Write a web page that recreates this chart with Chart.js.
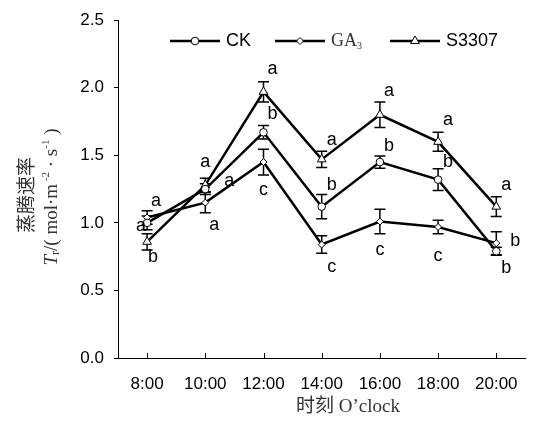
<!DOCTYPE html>
<html>
<head>
<meta charset="utf-8">
<script src="https://cdn.jsdelivr.net/npm/chart.js@4/dist/chart.umd.min.js"></script>
<style>
  html, body { margin: 0; padding: 0; background: #fff; }
  #wrap { width: 534px; height: 433px; }
</style>
</head>
<body>
<div id="wrap"><canvas id="c" width="534" height="433"></canvas></div>
<script>
// data
var times = ['8:00', '10:00', '12:00', '14:00', '16:00', '18:00', '20:00'];
var ck = [1.00, 1.25, 1.67, 1.12, 1.45, 1.32, 0.79];
var ckErr = [0.05, 0.04, 0.05, 0.09, 0.045, 0.08, 0.03];
var ga3 = [1.04, 1.15, 1.45, 0.84, 1.01, 0.97, 0.85];
var ga3Err = [0.05, 0.075, 0.095, 0.065, 0.09, 0.05, 0.085];
var s3307 = [0.86, 1.28, 1.97, 1.47, 1.80, 1.60, 1.12];
var s3307Err = [0.06, 0.05, 0.075, 0.06, 0.095, 0.07, 0.073];
var ckSig = ['a', 'a', 'b', 'b', 'b', 'b', 'b'];
var ga3Sig = ['a', 'a', 'c', 'c', 'c', 'c', 'b'];
var s3307Sig = ['b', 'a', 'a', 'a', 'a', 'a', 'a'];
var yTicks = [0, 0.5, 1.0, 1.5, 2.0, 2.5];

// where the letters sit relative to their point (px)
var sigOffset = {
  ck: [[-6, 3], [24, -8], [9, -18], [10, -22], [9, -16], [10, -18], [10, 17]],
  ga3: [[9, -16], [9, 22], [0, 28], [10, 23], [0, 29], [0, 29], [19, -2]],
  s3307: [[6, 15], [0, -23], [9, -23], [10, -19], [9, -24], [10, -22], [10, -22]]
};

var errs = [ckErr, ga3Err, s3307Err];
var sigs = [ckSig, ga3Sig, s3307Sig];
var offs = [sigOffset.ck, sigOffset.ga3, sigOffset.s3307];

var errorBars = {
  id: 'errorBars',
  beforeDatasetsDraw: function(chart) {
    var ctx = chart.ctx, y = chart.scales.y;
    ctx.save();
    ctx.strokeStyle = '#000';
    ctx.lineWidth = 1.5;
    chart.data.datasets.forEach(function(ds, di) {
      var meta = chart.getDatasetMeta(di);
      meta.data.forEach(function(pt, i) {
        var v = ds.data[i], e = errs[di][i];
        var top = y.getPixelForValue(v + e), bot = y.getPixelForValue(v - e);
        ctx.beginPath();
        ctx.moveTo(pt.x, top); ctx.lineTo(pt.x, bot);
        ctx.moveTo(pt.x - 5.5, top); ctx.lineTo(pt.x + 5.5, top);
        ctx.moveTo(pt.x - 5.5, bot); ctx.lineTo(pt.x + 5.5, bot);
        ctx.stroke();
      });
    });
    ctx.restore();
  },
  afterDatasetsDraw: function(chart) {
    var ctx = chart.ctx;
    ctx.save();
    ctx.fillStyle = '#000';
    ctx.font = '18px "Liberation Sans", Arial, sans-serif';
    ctx.textAlign = 'center';
    ctx.textBaseline = 'middle';
    chart.data.datasets.forEach(function(ds, di) {
      var meta = chart.getDatasetMeta(di);
      meta.data.forEach(function(pt, i) {
        var o = offs[di][i];
        ctx.fillText(sigs[di][i], pt.x + o[0], pt.y + o[1]);
      });
    });
    ctx.restore();
  }
};

var extras = {
  id: 'extras',
  afterDraw: function(chart) {
    var ctx = chart.ctx, xs = chart.scales.x, area = chart.chartArea;
    ctx.save();
    // inner tick marks on x axis
    ctx.strokeStyle = '#000';
    ctx.lineWidth = 1;
    for (var i = 0; i < times.length; i++) {
      var px = Math.round(xs.getPixelForTick(i)) + 0.5;
      ctx.beginPath();
      ctx.moveTo(px, area.bottom);
      ctx.lineTo(px, area.bottom - 5);
      ctx.stroke();
    }

    // legend
    var items = [
      { x: 170, style: 'circle', r: 3.8, text: 'CK', font: '18px "Liberation Sans", Arial', color: '#000' },
      { x: 275, style: 'rectRot', r: 3.5, text: 'GA', sub: '3', font: '18px "Liberation Serif", serif', color: '#333' },
      { x: 390, style: 'triangle', r: 5, text: 'S3307', font: '18px "Liberation Sans", Arial', color: '#000' }
    ];
    var ly = 41;
    items.forEach(function(it) {
      ctx.strokeStyle = '#000';
      ctx.lineWidth = 2.5;
      ctx.beginPath();
      ctx.moveTo(it.x, ly); ctx.lineTo(it.x + 50, ly);
      ctx.stroke();
      ctx.fillStyle = '#fff';
      ctx.lineWidth = 1;
      Chart.helpers.drawPoint(ctx, { pointStyle: it.style, radius: it.r, borderWidth: 1, rotation: 0 }, it.x + 25, ly);
      ctx.fillStyle = it.color;
      ctx.font = it.font;
      ctx.textAlign = 'left';
      ctx.textBaseline = 'middle';
      ctx.fillText(it.text, it.x + 56, ly);
      if (it.sub) {
        var w = ctx.measureText(it.text).width;
        ctx.font = '10px "Liberation Serif", serif';
        ctx.fillText(it.sub, it.x + 56 + w, ly + 5);
      }
    });

    // x title
    ctx.fillStyle = '#333';
    ctx.textAlign = 'center';
    ctx.textBaseline = 'middle';
    ctx.font = '19px "Liberation Serif", "Noto Sans CJK SC", serif';
    ctx.fillText('时刻 O\u2019clock', 348, 407);

    // y title, two rotated lines
    ctx.save();
    ctx.translate(26, 195);
    ctx.rotate(-Math.PI / 2);
    ctx.font = '19px "Noto Sans CJK SC", sans-serif';
    ctx.fillText('蒸腾速率', 0, 0);
    ctx.restore();

    ctx.save();
    ctx.translate(52, 197);
    ctx.rotate(-Math.PI / 2);
    var parts = [
      ['T', 'italic 19px "Liberation Serif", serif', 0],
      ['r', '12px "Liberation Serif", serif', 4],
      ['/( mol\u00b7m', '19px "Liberation Serif", serif', 0],
      [' -2', '11px "Liberation Serif", serif', -6],
      [' \u00b7 s', '19px "Liberation Serif", serif', 0],
      ['-1', '11px "Liberation Serif", serif', -6],
      [' )', '19px "Liberation Serif", serif', 0]
    ];
    var total = 0;
    parts.forEach(function(p) { ctx.font = p[1]; total += ctx.measureText(p[0]).width; });
    var cx = -total / 2;
    ctx.textAlign = 'left';
    parts.forEach(function(p) {
      ctx.font = p[1];
      ctx.fillText(p[0], cx, p[2]);
      cx += ctx.measureText(p[0]).width;
    });
    ctx.restore();

    ctx.restore();
  }
};

function series(label, data, style, r) {
  return {
    label: label,
    data: data,
    borderColor: '#000',
    borderWidth: 2.5,
    pointStyle: style,
    pointRadius: r,
    pointBackgroundColor: '#fff',
    pointBorderColor: '#000',
    pointBorderWidth: 1,
    tension: 0,
    fill: false
  };
}

new Chart(document.getElementById('c'), {
  type: 'line',
  data: {
    labels: times,
    datasets: [
      series('CK', ck, 'circle', 3.8),
      series('GA3', ga3, 'rectRot', 3.5),
      series('S3307', s3307, 'triangle', 5)
    ]
  },
  options: {
    responsive: false,
    animation: false,
    devicePixelRatio: 1,
    layout: { padding: { top: 17, right: 0, bottom: 0, left: 0 } },
    plugins: { legend: { display: false }, tooltip: { enabled: false } },
    scales: {
      x: {
        offset: true,
        grid: { display: false, drawTicks: false },
        border: { display: true, color: '#000', width: 1 },
        ticks: { color: '#000', padding: 16, font: { family: '"Liberation Sans", Arial', size: 17 } },
        afterFit: function(s) { s.height = 75; }
      },
      y: {
        min: 0,
        max: 2.5,
        afterBuildTicks: function(s) { s.ticks = yTicks.map(function(v) { return { value: v }; }); },
        grid: { display: true, drawOnChartArea: false, drawTicks: true, tickLength: 4, color: '#000' },
        border: { display: true, color: '#000', width: 1 },
        ticks: {
          color: '#000',
          padding: 10,
          font: { family: '"Liberation Sans", Arial', size: 17 },
          callback: function(v) { return Number(v).toFixed(1); }
        },
        afterFit: function(s) { s.width = 118; }
      }
    }
  },
  plugins: [errorBars, extras]
});
</script>
</body>
</html>
